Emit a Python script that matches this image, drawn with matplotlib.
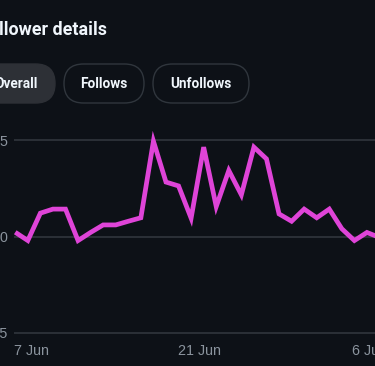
import matplotlib
matplotlib.use("Agg")
import matplotlib.pyplot as plt
from matplotlib.patches import FancyBboxPatch
from matplotlib.transforms import IdentityTransform
import numpy as np

# ---- data ----
values = [0.22, -0.21, 1.21, 1.42, 1.42, -0.21, 0.21, 0.60, 0.60, 0.79,
          0.97, 4.94, 2.82, 2.62, 0.95, 4.63, 1.55, 3.42, 2.16, 4.63,
          4.02, 1.17, 0.79, 1.42, 0.97, 1.42, 0.40, -0.21, 0.21, -0.05]
x_tick_labels = ["7 Jun", "21 Jun", "6 Jul"]
x_tick_pos = [-0.1, 12.95, 26.8]
y_ticks = [-5, 0, 5]
y_tick_labels = ["\u22125", "0", "5"]
buttons = ["Overall", "Follows", "Unfollows"]
title = "Follower details"

BG = "#0d1117"
W, H = 375, 366
plt.rcParams['font.family'] = ['Liberation Sans', 'DejaVu Sans']
fig = plt.figure(figsize=(W / 100, H / 100), dpi=100, facecolor=BG)

UI_FONT = ["Roboto", "Liberation Sans", "DejaVu Sans"]

def fx(px):
    return px / W

def fy(py):
    return 1 - py / H

# axes: left edge 14px, right edge figure edge, top 120px, bottom 340px
top_px, bot_px = 120, 340
ax = fig.add_axes([fx(14), fy(bot_px), 1 - fx(14), (bot_px - top_px) / H])
ax.set_facecolor(BG)
x = np.arange(len(values))
ax.plot(x, values, color="#df44d8", lw=3.4, solid_joinstyle="miter", solid_capstyle="butt", zorder=3)

px_per_idx = 12.57
x0_px = 15
ax.set_xlim((14 - x0_px) / px_per_idx, (W - x0_px) / px_per_idx)
zero_px, unit_px = 236.5, 19.3
ax.set_ylim((zero_px - bot_px) / unit_px, (zero_px - top_px) / unit_px)

ax.set_yticks(y_ticks)
ax.set_yticklabels(y_tick_labels)
ax.set_xticks(x_tick_pos)
ax.set_xticklabels(x_tick_labels, ha="left")
ax.tick_params(axis="both", length=0, colors="#8b949e", labelsize=10.3)
ax.tick_params(axis="y", pad=5)
ax.tick_params(axis="x", pad=3)
ax.grid(axis="y", color="#30363d", lw=1.2)
ax.grid(axis="x", visible=False)
for s in ax.spines.values():
    s.set_visible(False)

# title
fig.text(fx(107), fy(35), title, ha="right", va="baseline", color="#f0f6fc",
         fontsize=12.9, fontweight="bold", family=UI_FONT)

# pill buttons (pixel coordinates)
tr = IdentityTransform()
pills = [(-40, 55, True), (64, 144, False), (153, 249, False)]
for (x1, x2, filled), label in zip(pills, buttons):
    y1, y2 = 64, 103
    r = (y2 - y1) / 2
    p = FancyBboxPatch((x1, H - y2), x2 - x1, y2 - y1,
                       boxstyle=f"round,pad=0,rounding_size={r}",
                       transform=tr,
                       facecolor="#2d3036" if filled else BG,
                       edgecolor="#2d3036" if filled else "#30363d",
                       lw=1.0)
    fig.add_artist(p)
    if label == "Overall":
        fig.text(fx(38), fy(83.5), label, ha="right", va="center", color="#f0f6fc",
                 fontsize=9.8, fontweight="bold", family=UI_FONT)
    else:
        fig.text(fx((x1 + x2) / 2), fy(83.5), label, ha="center", va="center",
                 color="#f0f6fc", fontsize=9.8, fontweight="bold", family=UI_FONT)

fig.savefig("out.png", dpi=100, facecolor=BG)
